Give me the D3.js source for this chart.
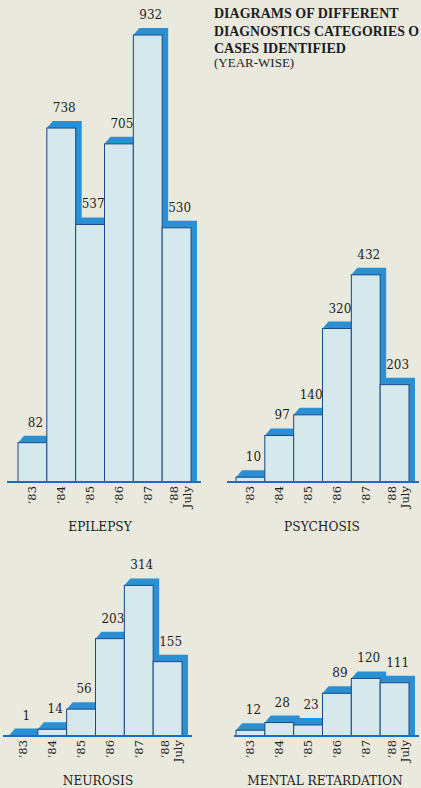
<!DOCTYPE html>
<html>
<head>
<meta charset="utf-8">
<script src="https://cdn.jsdelivr.net/npm/d3@7"></script>
<style>
  html, body { margin: 0; padding: 0; background: #eae9de; }
  svg { display: block; }
</style>
</head>
<body>
<svg id="chart" width="421" height="788"></svg>
<script>
// ---- data ----
const years = ["\u201983", "\u201984", "\u201985", "\u201986", "\u201987", "\u201988"];
const lastSubLabel = "July";
const epilepsy = [82, 738, 537, 705, 932, 530];
const psychosis = [10, 97, 140, 320, 432, 203];
const neurosis = [1, 14, 56, 203, 314, 155];
const mentalRetardation = [12, 28, 23, 89, 120, 111];
const panelTitles = ["EPILEPSY", "PSYCHOSIS", "NEUROSIS", "MENTAL RETARDATION"];
const headerLines = ["DIAGRAMS OF DIFFERENT", "DIAGNOSTICS CATEGORIES O", "CASES IDENTIFIED"];
const headerSub = "(YEAR-WISE)";

// ---- layout ----
const W = 421, H = 788;
const BG = "#eae9de", FACE = "#d5e8ec", BLUE = "#2b8fd4", OUTLINE = "#1c4a86", TEXT = "#1d1d1d";
const FONT = "'DejaVu Serif', serif";
const HFONT = "'Liberation Serif', 'Times New Roman', serif";
const DX = 6, DY = 7;
const barSpan = 173;
const maxH = 447;

const panels = [
  { values: epilepsy, title: panelTitles[0], x0: 18, base: 482, titleX: 100, lineL: 11 },
  { values: psychosis, title: panelTitles[1], x0: 236, base: 482, titleX: 322, lineL: 9 },
  { values: neurosis, title: panelTitles[2], x0: 9, base: 736, titleX: 98, lineL: 6 },
  { values: mentalRetardation, title: panelTitles[3], x0: 236, base: 736, titleX: 325, lineL: 2 }
];

const svg = d3.select("#chart");
svg.append("rect").attr("width", W).attr("height", H).attr("fill", BG);

// header
const hdr = svg.append("g").attr("font-family", HFONT).attr("fill", TEXT);
headerLines.forEach((t, i) => {
  const el = hdr.append("text").attr("x", 214).attr("y", 18 + i * 17.5)
    .attr("font-size", 14).attr("font-weight", "bold").text(t);
  if (i === 1) el.attr("textLength", 205).attr("lengthAdjust", "spacingAndGlyphs");
});
hdr.append("text").attr("x", 214).attr("y", 67).attr("font-size", 13).text(headerSub);

panels.forEach(p => {
  const g = svg.append("g");
  const x = d3.scaleBand().domain(years).range([p.x0, p.x0 + barSpan]).paddingInner(0).paddingOuter(0);
  const y = d3.scaleLinear().domain([0, 932]).range([p.base, p.base - maxH]);
  const data = years.map((yr, i) => ({ yr, v: p.values[i] }));

  // shadows (extrusion)
  g.selectAll("path.shadow").data(data).join("path")
    .attr("class", "shadow")
    .attr("fill", BLUE)
    .attr("d", d => {
      const x0 = x(d.yr), x1 = x0 + x.bandwidth(), top = y(d.v);
      return `M${x0},${top}L${x0 + DX},${top - DY}L${x1 + DX},${top - DY}L${x1 + DX},${p.base}L${x0},${p.base}Z`;
    });

  // faces
  g.selectAll("rect.face").data(data).join("rect")
    .attr("class", "face")
    .attr("x", d => x(d.yr))
    .attr("y", d => y(d.v))
    .attr("width", x.bandwidth())
    .attr("height", d => p.base - y(d.v))
    .attr("fill", FACE)
    .attr("stroke", OUTLINE)
    .attr("stroke-width", 1);

  // baseline
  g.append("line")
    .attr("x1", p.x0 - p.lineL).attr("x2", p.x0 + barSpan + DX + 4)
    .attr("y1", p.base).attr("y2", p.base)
    .attr("stroke", "#1f6db5").attr("stroke-width", 2.2);

  // value labels
  g.selectAll("text.val").data(data).join("text")
    .attr("class", "val")
    .attr("x", d => x(d.yr) + x.bandwidth() / 2 + 3)
    .attr("y", d => y(d.v) - 16)
    .attr("text-anchor", "middle")
    .attr("font-family", FONT).attr("font-size", 12).attr("fill", TEXT)
    .text(d => d.v);

  // tick labels (rotated)
  const tick = g.selectAll("g.tick").data(data).join("g")
    .attr("class", "tick")
    .attr("transform", (d, i) => {
      const cx = x(d.yr) + x.bandwidth() / 2 + (i === years.length - 1 ? -3 : 0);
      return `translate(${cx},${p.base + 4}) rotate(-90)`;
    });
  tick.append("text")
    .attr("text-anchor", "end").attr("dy", "0.35em")
    .attr("font-family", FONT).attr("font-size", 11.5).attr("fill", TEXT)
    .text(d => d.yr);
  tick.filter((d, i) => i === years.length - 1).append("text")
    .attr("text-anchor", "end").attr("dy", "0.35em").attr("y", 13)
    .attr("font-family", FONT).attr("font-size", 11.5).attr("fill", TEXT)
    .text(lastSubLabel);

  // panel title
  g.append("text")
    .attr("x", p.titleX).attr("y", p.base + 49)
    .attr("text-anchor", "middle")
    .attr("font-family", FONT).attr("font-size", 12.2).attr("fill", TEXT)
    .text(p.title);
});
</script>
</body>
</html>
